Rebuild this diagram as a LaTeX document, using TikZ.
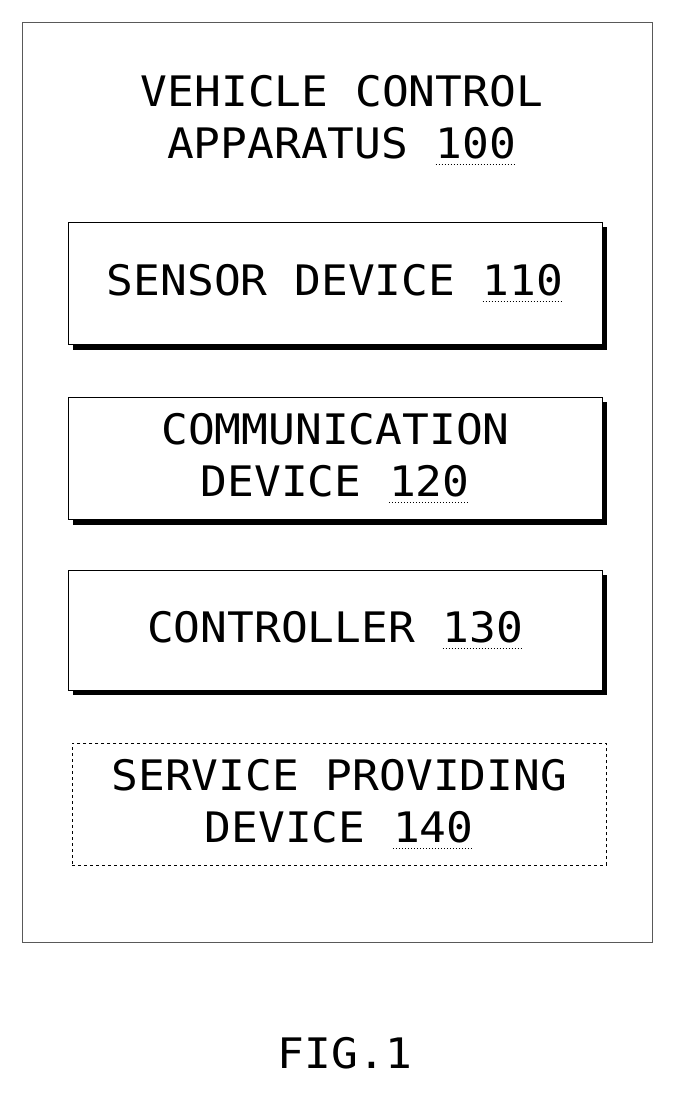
\documentclass[tikz,border=0pt]{standalone}
\usepackage{fontspec}
\newfontfamily\mono[FakeStretch=1.06]{DejaVu Sans Mono}
\begin{document}
\begin{tikzpicture}[x=1pt,y=-1pt,
  lbl/.style={font=\mono\fontsize{42}{52}\selectfont, align=center, inner sep=0pt},
  blk/.style={draw, line width=1pt, minimum width=534pt, minimum height=122pt, fill=white}]
\newcommand\un[1]{\tikz[baseline=(n.base)]{\node[inner sep=0pt](n){#1};\draw[dotted,line width=1pt]([yshift=-5pt]n.south west)--([yshift=-5pt]n.south east);}}
\useasboundingbox (0,0) rectangle (673,1095);
\draw[line width=0.8pt, gray!70!black] (22,22) rectangle (652,942);
\node[lbl] (t) at (342,120) {VEHICLE CONTROL\\APPARATUS \un{100}};
% shadows
\fill (73,227) rectangle (607,350);
\fill (73,402) rectangle (607,525);
\fill (73,575) rectangle (607,695);
\node[blk, anchor=north west] (b1) at (68,222) {};
\node[lbl] at (b1.center) {SENSOR DEVICE \un{110}};
\node[blk, anchor=north west] (b2) at (68,397) {};
\node[lbl] at (b2.center) {COMMUNICATION\\DEVICE \un{120}};
\node[blk, anchor=north west, minimum height=120pt] (b3) at (68,570) {};
\node[lbl] at (b3.center) {CONTROLLER \un{130}};
\node[draw, dashed, line width=0.8pt, minimum width=534pt, minimum height=122pt, anchor=north west] (b4) at (72,743) {};
\node[lbl] at (b4.center) {SERVICE PROVIDING\\DEVICE \un{140}};
\node[lbl] (f) at (345,1053) {FIG.1};
\end{tikzpicture}
\end{document}
